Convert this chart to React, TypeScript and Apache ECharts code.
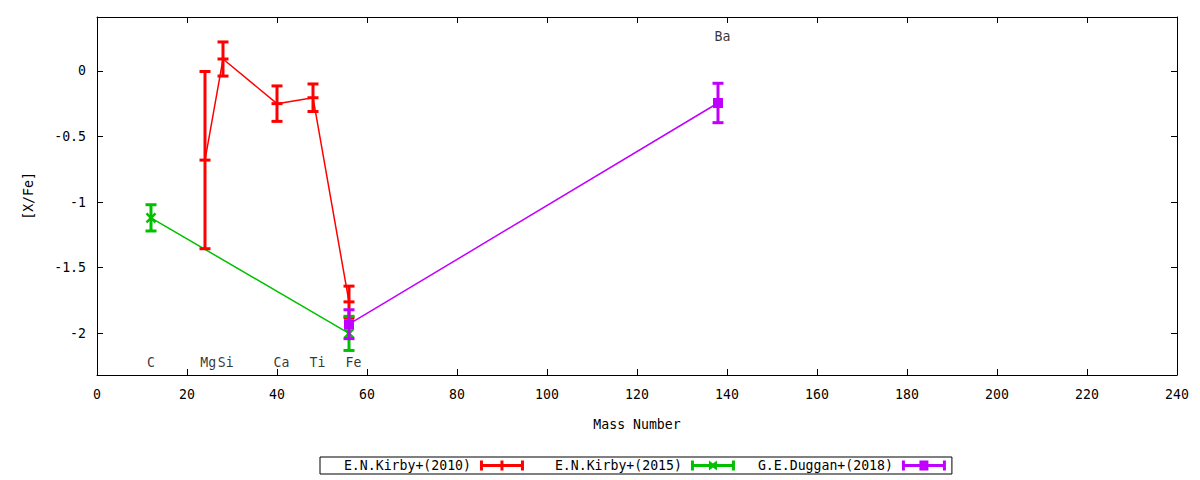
import React, { useEffect, useRef } from "react";
import * as echarts from "echarts";

// ---- data ----
const kirby2010Mass = [24, 28, 40, 48, 56];
const kirby2010Val = [-0.68, 0.09, -0.25, -0.205, -1.76];
const kirby2010Err = [0.675, 0.13, 0.135, 0.105, 0.12];

const kirby2015Mass = [12, 56];
const kirby2015Val = [-1.12, -2.0];
const kirby2015Err = [0.1, 0.13];

const duggan2018Mass = [56, 138];
const duggan2018Val = [-1.93, -0.245];
const duggan2018Err = [0.11, 0.15];

const elementNames = ["C", "Mg", "Si", "Ca", "Ti", "Fe", "Ba"];
const elementLabelX = [12.0, 24.7, 28.6, 41.0, 49.0, 57.0, 139.0];
const elementLabelY = [-2.225, -2.225, -2.225, -2.225, -2.225, -2.225, 0.26];

const yTickValues = [-2, -1.5, -1, -0.5, 0];
const seriesNames = ["E.N.Kirby+(2010)", "E.N.Kirby+(2015)", "G.E.Duggan+(2018)"];
const seriesColors = ["#ff0000", "#00c000", "#c000ff"];
const markerKinds = ["plus", "cross", "square"];

const FONT = "DejaVu Sans Mono";
const FS = 13.2;

const legendIcons = [
  "path://M0,0H3V10H0Z M41,0H44V10H41Z M0,3.5H44V6.5H0Z M20.5,0H23.5V10H20.5Z",
  "path://M0,0H3V10H0Z M41,0H44V10H41Z M0,3.5H44V6.5H0Z M18,0L22,3L26,0V10L22,7L18,10Z",
  "path://M0,0H3V10H0Z M41,0H44V10H41Z M0,3.5H44V6.5H0Z M17.5,0H26.5V10H17.5Z",
];

function makeErrorSeries(name: string, color: string, kind: string, mass: number[], val: number[], err: number[]) {
  return {
    name,
    type: "custom",
    xAxisIndex: 0,
    yAxisIndex: 0,
    z: 5,
    encode: { x: 0, y: 1 },
    data: mass.map((m, i) => [m, val[i], err[i]]),
    renderItem: (params: any, api: any) => {
      const x = api.value(0);
      const y = api.value(1);
      const e = api.value(2);
      const c = api.coord([x, y]);
      const t = api.coord([x, y + e]);
      const b = api.coord([x, y - e]);
      const style = { stroke: color, lineWidth: 3, fill: "none" };
      const children: any[] = [
        { type: "line", shape: { x1: c[0], y1: t[1], x2: c[0], y2: b[1] }, style },
        { type: "line", shape: { x1: c[0] - 5.5, y1: t[1], x2: c[0] + 5.5, y2: t[1] }, style },
        { type: "line", shape: { x1: c[0] - 5.5, y1: b[1], x2: c[0] + 5.5, y2: b[1] }, style },
      ];
      if (kind === "plus") {
        children.push({ type: "line", shape: { x1: c[0] - 5.5, y1: c[1], x2: c[0] + 5.5, y2: c[1] }, style });
      } else if (kind === "cross") {
        const s2 = { stroke: color, lineWidth: 2.5, fill: "none" };
        children.push({ type: "line", shape: { x1: c[0] - 4.5, y1: c[1] - 4.5, x2: c[0] + 4.5, y2: c[1] + 4.5 }, style: s2 });
        children.push({ type: "line", shape: { x1: c[0] - 4.5, y1: c[1] + 4.5, x2: c[0] + 4.5, y2: c[1] - 4.5 }, style: s2 });
      } else {
        children.push({ type: "rect", shape: { x: c[0] - 5, y: c[1] - 5, width: 10, height: 10 }, style: { fill: color } });
      }
      return { type: "group", children };
    },
  };
}

function makeLineSeries(name: string, color: string, mass: number[], val: number[]) {
  return {
    name,
    type: "line",
    xAxisIndex: 0,
    yAxisIndex: 0,
    z: 3,
    symbol: "none",
    lineStyle: { color, width: 1.5 },
    itemStyle: { color },
    data: mass.map((m, i) => [m, val[i]]),
  };
}

export default function App() {
  const ref = useRef<HTMLDivElement>(null);
  useEffect(() => {
    document.body.style.margin = "0";
    if (!ref.current) return;
    const chart = echarts.init(ref.current, null, { renderer: "svg" });
    const masses = [kirby2010Mass, kirby2015Mass, duggan2018Mass];
    const vals = [kirby2010Val, kirby2015Val, duggan2018Val];
    const errs = [kirby2010Err, kirby2015Err, duggan2018Err];
    const series: any[] = [];
    seriesNames.forEach((n, i) => {
      series.push(makeLineSeries(n, seriesColors[i], masses[i], vals[i]));
    });
    seriesNames.forEach((n, i) => {
      series.push(makeErrorSeries(n, seriesColors[i], markerKinds[i], masses[i], vals[i], errs[i]));
    });
    series.push({
      type: "scatter",
      name: "labels",
      symbolSize: 0,
      z: 6,
      silent: true,
      data: elementNames.map((n, i) => ({ name: n, value: [elementLabelX[i], elementLabelY[i]] })),
      label: {
        show: true,
        position: "inside",
        formatter: (p: any) => p.name,
        color: "#000",
        fontFamily: FONT,
        fontSize: FS,
      },
    });

    const axisLine = { show: true, onZero: false, lineStyle: { color: "#000", width: 1 } };
    const tickStyle = { show: true, inside: true, length: 6, lineStyle: { color: "#000", width: 1 } };
    const maxLen = Math.max(...seriesNames.map((n) => n.length));

    chart.setOption({
      animation: false,
      backgroundColor: "#fff",
      textStyle: { fontFamily: FONT },
      grid: { left: 97, right: 23, top: 17, bottom: 105, containLabel: false },
      legend: {
        data: seriesNames.map((n, i) => ({ name: n, icon: legendIcons[i] })),
        formatter: (n: string) => n.padStart(maxLen, "\u00a0"),
        left: 320,
        top: 457,
        align: "right",
        itemWidth: 44,
        itemHeight: 10,
        itemGap: 23,
        padding: [2, 6, 2, 16],
        borderColor: "#000",
        borderWidth: 1,
        borderRadius: 0,
        selectedMode: false,
        textStyle: {
          fontFamily: FONT,
          fontSize: FS,
          color: "#000",
          padding: [0, 4, 0, 0],
        },
      },
      xAxis: [
        {
          type: "value",
          position: "bottom",
          min: 0,
          max: 240,
          interval: 20,
          name: "Mass Number",
          nameLocation: "middle",
          nameGap: 43,
          nameTextStyle: { fontFamily: FONT, fontSize: FS, color: "#000" },
          axisLine,
          axisTick: tickStyle,
          axisLabel: { color: "#000", fontFamily: FONT, fontSize: FS, margin: 13 },
          splitLine: { show: false },
        },
        {
          type: "value",
          position: "top",
          min: 0,
          max: 240,
          interval: 20,
          axisLine,
          axisTick: tickStyle,
          axisLabel: { show: false },
          splitLine: { show: false },
        },
      ],
      yAxis: [
        {
          type: "value",
          position: "left",
          min: -2.317,
          max: 0.41,
          name: "[X/Fe]",
          nameLocation: "middle",
          nameGap: 62,
          nameTextStyle: { fontFamily: FONT, fontSize: FS, color: "#000" },
          axisLine,
          axisTick: { ...tickStyle, customValues: yTickValues },
          axisLabel: {
            color: "#000",
            fontFamily: FONT,
            fontSize: FS,
            margin: 11,
            customValues: yTickValues,
            formatter: (v: number) => String(v),
          },
          splitLine: { show: false },
        },
        {
          type: "value",
          position: "right",
          min: -2.317,
          max: 0.41,
          axisLine,
          axisTick: { ...tickStyle, customValues: yTickValues },
          axisLabel: { show: false, customValues: yTickValues },
          splitLine: { show: false },
        },
      ],
      series,
    });
    return () => chart.dispose();
  }, []);
  return <div ref={ref} style={{ width: 1200, height: 480 }} />;
}
